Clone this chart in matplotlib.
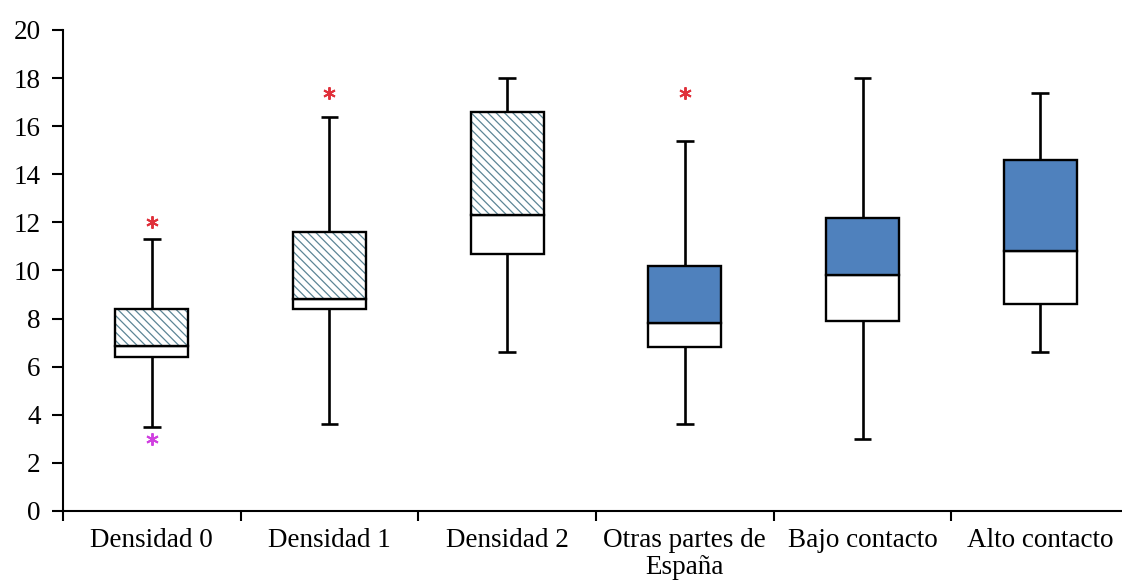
import matplotlib.pyplot as plt
import numpy as np

plt.rcParams['font.family'] = ['Liberation Serif', 'DejaVu Serif']
plt.rcParams['hatch.linewidth'] = 0.9

categories = ["Densidad 0", "Densidad 1", "Densidad 2",
              "Otras partes de\nEspaña", "Bajo contacto", "Alto contacto"]
whisker_low = [3.5, 3.6, 6.6, 3.6, 3.0, 6.6]
q1 = [6.4, 8.4, 10.7, 6.8, 7.9, 8.6]
median = [6.85, 8.8, 12.3, 7.8, 9.8, 10.8]
q3 = [8.4, 11.6, 16.6, 10.2, 12.2, 14.6]
whisker_high = [11.3, 16.4, 18.0, 15.4, 18.0, 17.4]
hatched = [True, True, True, False, False, False]
outliers_high = [12.0, 17.4, None, 17.4, None, None]
outliers_low = [3.0, None, None, None, None, None]

blue = "#4f81bd"
hatch_col = "#5c8595"

fig = plt.figure(figsize=(11.22, 5.88), dpi=100)
ax = fig.add_axes([0.0561, 0.131, 0.9439, 0.818])

x = np.arange(len(categories)) + 0.5
width = 0.41

# whiskers and caps
ax.vlines(x, whisker_low, q1, color="black", lw=1.9, zorder=1)
ax.vlines(x, q3, whisker_high, color="black", lw=1.9, zorder=1)
ax.hlines(whisker_low, x - 0.05, x + 0.05, color="black", lw=1.9)
ax.hlines(whisker_high, x - 0.05, x + 0.05, color="black", lw=1.9)

# lower part of box (Q1 -> median), white
ax.bar(x, np.subtract(median, q1), bottom=q1, width=width,
       color="white", edgecolor="black", lw=1.7, zorder=2)

# upper part of box (median -> Q3)
for xi, m, t, h in zip(x, median, q3, hatched):
    if h:
        ax.bar(xi, t - m, bottom=m, width=width, color="white",
               edgecolor=hatch_col, hatch="\\\\\\\\", lw=0, zorder=2)
        ax.bar(xi, t - m, bottom=m, width=width, fill=False,
               edgecolor="black", lw=1.7, zorder=3)
    else:
        ax.bar(xi, t - m, bottom=m, width=width, color=blue,
               edgecolor="black", lw=1.7, zorder=2)

# outliers
for xi, o in zip(x, outliers_high):
    if o is not None:
        ax.plot(xi, o, marker=(6, 2, 0), color="#e0303a", ms=9, mew=1.4)
for xi, o in zip(x, outliers_low):
    if o is not None:
        ax.plot(xi, o, marker=(6, 2, 0), color="#d040e0", ms=9, mew=1.4)

ax.set_xlim(0, 5.96)
ax.set_ylim(0, 20)
ax.set_yticks(np.arange(0, 21, 2))
ax.set_xticks(np.arange(0, 6))
ax.set_xticks(x, minor=True)
ax.set_xticklabels([])
ax.set_xticklabels(categories, minor=True, fontsize=19.5, linespacing=1.1)
ax.tick_params(axis="x", which="minor", length=0, pad=12)
ax.tick_params(axis="x", which="major", length=7, width=1.5, direction="out")
ax.tick_params(axis="y", length=8, width=1.5, labelsize=19.5, pad=8)

for s in ["top", "right"]:
    ax.spines[s].set_visible(False)
for s in ["left", "bottom"]:
    ax.spines[s].set_linewidth(1.5)

fig.savefig("out.png", dpi=100)
